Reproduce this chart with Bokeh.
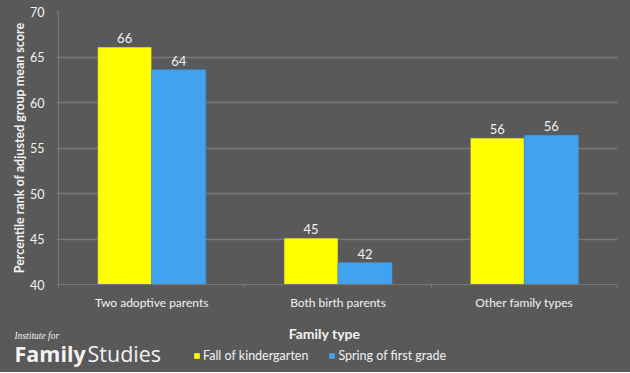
from bokeh.plotting import figure
from bokeh.layouts import column
from bokeh.models import (ColumnDataSource, LabelSet, Label, Legend, LegendItem,
                          Range1d, SingleIntervalTicker, FixedTicker)
from bokeh.core.properties import value
from bokeh.transform import dodge
from bokeh.embed import file_html
from bokeh.resources import INLINE

categories = ["Two adoptive parents", "Both birth parents", "Other family types"]
fall_kindergarten = [66.1, 45.1, 56.1]
spring_first_grade = [63.6, 42.4, 56.4]
series_names = ["Fall of kindergarten", "Spring of first grade"]
y_title = "Percentile rank of adjusted group mean score"
x_title = "Family type"
logo_small = "Institute for"
logo_bold = "Family"
logo_light = "Studies"

BG = "#595959"
TXT = "#f2f2f2"
GRID = "#797979"
YELLOW = "#ffff00"
BLUE = "#41a3f0"
FONT = "Lato"

n = len(categories)
centers = [i + 0.5 for i in range(n)]

src = ColumnDataSource(dict(
    x=centers,
    fall=fall_kindergarten,
    spring=spring_first_grade,
    fall_txt=["%.0f" % v for v in fall_kindergarten],
    spring_txt=["%.0f" % v for v in spring_first_grade],
))

# ---------------- main chart ----------------
p = figure(x_range=Range1d(0, n), y_range=Range1d(40, 70),
           width=630, height=318, output_backend="svg", toolbar_location=None,
           min_border_left=58, min_border_right=13, min_border_top=11, min_border_bottom=34)
p.frame_align = False
p.background_fill_color = BG
p.border_fill_color = BG
p.outline_line_color = None

bw = 0.29
r1 = p.vbar(x=dodge("x", -0.145), top="fall", bottom=40, width=bw,
            source=src, fill_color=YELLOW, line_color="#5b6275", line_width=0.6)
r2 = p.vbar(x=dodge("x", 0.145), top="spring", bottom=40, width=bw,
            source=src, fill_color=BLUE, line_color="#3b95dc", line_width=0.6)

for col, txt, off in (("fall", "fall_txt", -0.145), ("spring", "spring_txt", 0.145)):
    p.add_layout(LabelSet(x=dodge("x", off), y=col, text=txt, source=src,
                          text_align="center", text_baseline="bottom", y_offset=4,
                          text_color=TXT, text_font=value(FONT), text_font_size="13px"))

# y axis
p.yaxis.ticker = SingleIntervalTicker(interval=5)
p.yaxis.minor_tick_line_color = None
p.yaxis.major_tick_in = 0
p.yaxis.major_tick_out = 2
p.yaxis.major_tick_line_color = GRID
p.yaxis.axis_line_color = GRID
p.yaxis.major_label_text_color = TXT
p.yaxis.major_label_text_font = FONT
p.yaxis.major_label_text_font_size = "12.5px"
p.yaxis.major_label_standoff = 10
p.yaxis.axis_label = y_title
p.yaxis.axis_label_text_color = TXT
p.yaxis.axis_label_text_font = FONT
p.yaxis.axis_label_text_font_style = "bold"
p.yaxis.axis_label_text_font_size = "12.5px"
p.yaxis.axis_label_standoff = 0

# x axis: labels at category centres, small ticks at group boundaries
p.xaxis.ticker = FixedTicker(ticks=centers, minor_ticks=list(range(n + 1)))
p.xaxis.major_label_overrides = {c: name for c, name in zip(centers, categories)}
p.xaxis.axis_line_color = GRID
p.xaxis.major_tick_line_color = None
p.xaxis.minor_tick_line_color = GRID
p.xaxis.minor_tick_in = 0
p.xaxis.minor_tick_out = 4
p.xaxis.major_tick_in = 0
p.xaxis.major_tick_out = 4
p.xaxis.major_label_text_color = TXT
p.xaxis.major_label_text_font = FONT
p.xaxis.major_label_text_font_size = "12px"
p.xaxis.major_label_standoff = 6

p.xgrid.grid_line_color = None
p.ygrid.grid_line_color = GRID
p.ygrid.grid_line_width = 1.6

# ---------------- footer: axis title, logo, legend ----------------
f = figure(width=630, height=54, x_range=Range1d(0, 630), y_range=Range1d(0, 54),
           output_backend="svg", toolbar_location=None,
           x_axis_location=None, y_axis_location=None, min_border=0)
f.frame_align = False
f.background_fill_color = BG
f.border_fill_color = BG
f.outline_line_color = None
f.xgrid.visible = False
f.ygrid.visible = False

# legend-only copies of the series, mapped to a range where they stay out of view
f.extra_y_ranges = {"off": Range1d(0, 1)}
d1 = f.vbar(x="x", top="fall", bottom=40, width=bw, source=src, y_range_name="off",
            fill_color=YELLOW, line_color=None)
d2 = f.vbar(x="x", top="spring", bottom=40, width=bw, source=src, y_range_name="off",
            fill_color=BLUE, line_color=None)
legend = Legend(items=[LegendItem(label=series_names[0], renderers=[d1]),
                       LegendItem(label=series_names[1], renderers=[d2])],
                orientation="horizontal", location=(193, 9),
                background_fill_alpha=0, border_line_color=None,
                label_text_color=TXT, label_text_font=FONT, label_text_font_size="12.5px",
                label_height=14, glyph_width=7, glyph_height=7, label_standoff=3, spacing=20,
                padding=0, margin=0)
f.add_layout(legend, "center")

f.add_layout(Label(x=324, y=39, text=x_title, text_align="center", text_baseline="middle",
                   text_font=FONT, text_font_style="bold", text_font_size="14px", text_color=TXT))
f.add_layout(Label(x=14, y=37, text=logo_small, text_baseline="middle",
                   text_font="Liberation Serif", text_font_style="italic", text_font_size="9.5px",
                   text_color=TXT))
f.add_layout(Label(x=14, y=19, text=logo_bold, text_baseline="middle",
                   text_font="Open Sans", text_font_style="bold", text_font_size="21.5px",
                   text_color=TXT))
f.add_layout(Label(x=87, y=19, text=logo_light, text_baseline="middle",
                   text_font="Open Sans", text_font_size="21.5px",
                   text_color=TXT))

layout = column(p, f, spacing=0, styles={"background-color": BG})
open("out.html", "w").write(file_html(layout, INLINE))
